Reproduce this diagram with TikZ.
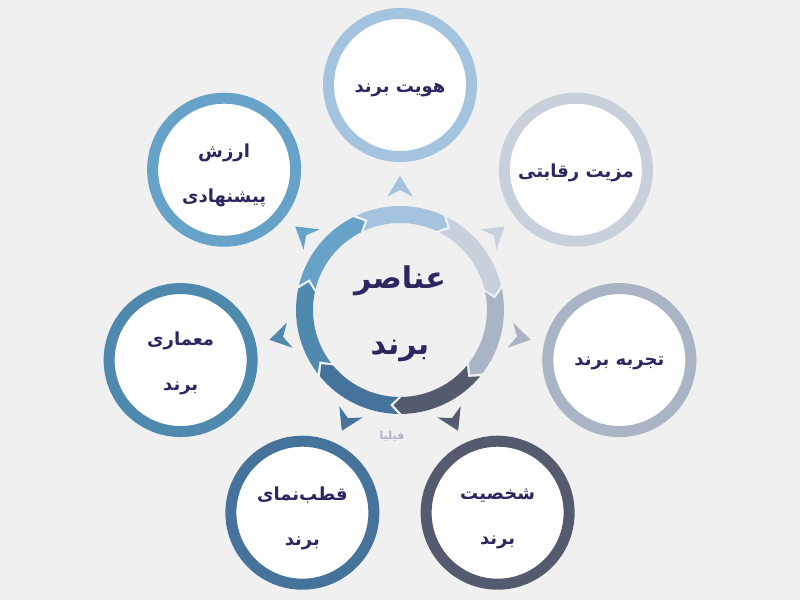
\documentclass[tikz,border=0pt]{standalone}
\usepackage{fontspec}
\TeXXeTstate=1
\newfontfamily\arabicfont[Script=Arabic]{DejaVu Sans}
\usetikzlibrary{calc}
\definecolor{bg}{HTML}{F0F0F0}
\definecolor{txt}{HTML}{2B2760}
\definecolor{wm}{HTML}{B4AFCB}
\definecolor{c0}{HTML}{A4C3DF}
\definecolor{c1}{HTML}{C8D0DB}
\definecolor{c2}{HTML}{A9B4C4}
\definecolor{c3}{HTML}{545B6F}
\definecolor{c4}{HTML}{46739C}
\definecolor{c5}{HTML}{5089AE}
\definecolor{c6}{HTML}{67A3C9}
\tikzset{
  outercirc/.style={circle, fill=white, line width=11pt, minimum size=143pt,
    inner sep=0pt},
  outertext/.style={align=center, text=txt, inner sep=0pt,
    font=\arabicfont\bfseries\fontsize{18}{45}\selectfont},
  centertext/.style={align=center, text=txt,
    font=\arabicfont\bfseries\fontsize{30}{66}\selectfont},
  wmtext/.style={text=wm, font=\arabicfont\bfseries\fontsize{11}{11}\selectfont}
}
\begin{document}
\begin{tikzpicture}[x=1pt,y=1pt]
\fill[bg] (0,0) rectangle (800,600);
\useasboundingbox (0,0) rectangle (800,600);
\coordinate (c) at (400,290);
% ring segments and arrowheads
\foreach \k/\col in {0/c0,1/c1,2/c2,3/c3,4/c4,5/c5,6/c6}{
  \begin{scope}[shift={(c)}, rotate=-\k*360/7]
    \fill[\col] (114.714:104) arc[start angle=114.714, end angle=65.286, radius=104]
      -- (60.286:95.5) -- (65.286:87)
      arc[start angle=65.286, end angle=114.714, radius=87]
      -- (109.714:95.5) -- cycle;
    \fill[\col] (0,134) -- (-13,113) -- (0,120) -- (13,113) -- cycle;
  \end{scope}
}
% outer circles
\node[outercirc, draw=c0] (n0) at ($(c)+(90:225)$) {};
\node[outercirc, draw=c1] (n1) at ($(c)+(90-360/7:225)$) {};
\node[outercirc, draw=c2] (n2) at ($(c)+(90-2*360/7:225)$) {};
\node[outercirc, draw=c3] (n3) at ($(c)+(90-3*360/7:225)$) {};
\node[outercirc, draw=c4] (n4) at ($(c)+(90-4*360/7:225)$) {};
\node[outercirc, draw=c5] (n5) at ($(c)+(90-5*360/7:225)$) {};
\node[outercirc, draw=c6] (n6) at ($(c)+(90-6*360/7:225)$) {};
% texts
\node[outertext] (t0) at ($(n0)+(0,-5)$) {\beginR هویت برند\endR};
\node[outertext] (t1) at ($(n1)+(0,-3)$) {\beginR مزیت رقابتی\endR};
\node[outertext] (t2) at ($(n2)+(0,-3)$) {\beginR تجربه برند\endR};
\node[outertext] (t3) at ($(n3)+(0,-6)$) {\beginR شخصیت\endR\\\beginR برند\endR};
\node[outertext] (t4) at ($(n4)+(0,-6)$) {\beginR قطب‌نمای\endR\\\beginR برند\endR};
\node[outertext] (t5) at ($(n5)+(0,-3)$) {\beginR معماری\endR\\\beginR برند\endR};
\node[outertext] (t6) at ($(n6)+(0,-6)$) {\beginR ارزش\endR\\\beginR پیشنهادی\endR};
% center
\node[centertext] (center) at ($(c)+(0,-4)$) {\beginR عناصر\endR\\\beginR برند\endR};
\node[wmtext] (wmark) at (392,164) {\beginR فیلیا\endR};
\end{tikzpicture}
\end{document}
